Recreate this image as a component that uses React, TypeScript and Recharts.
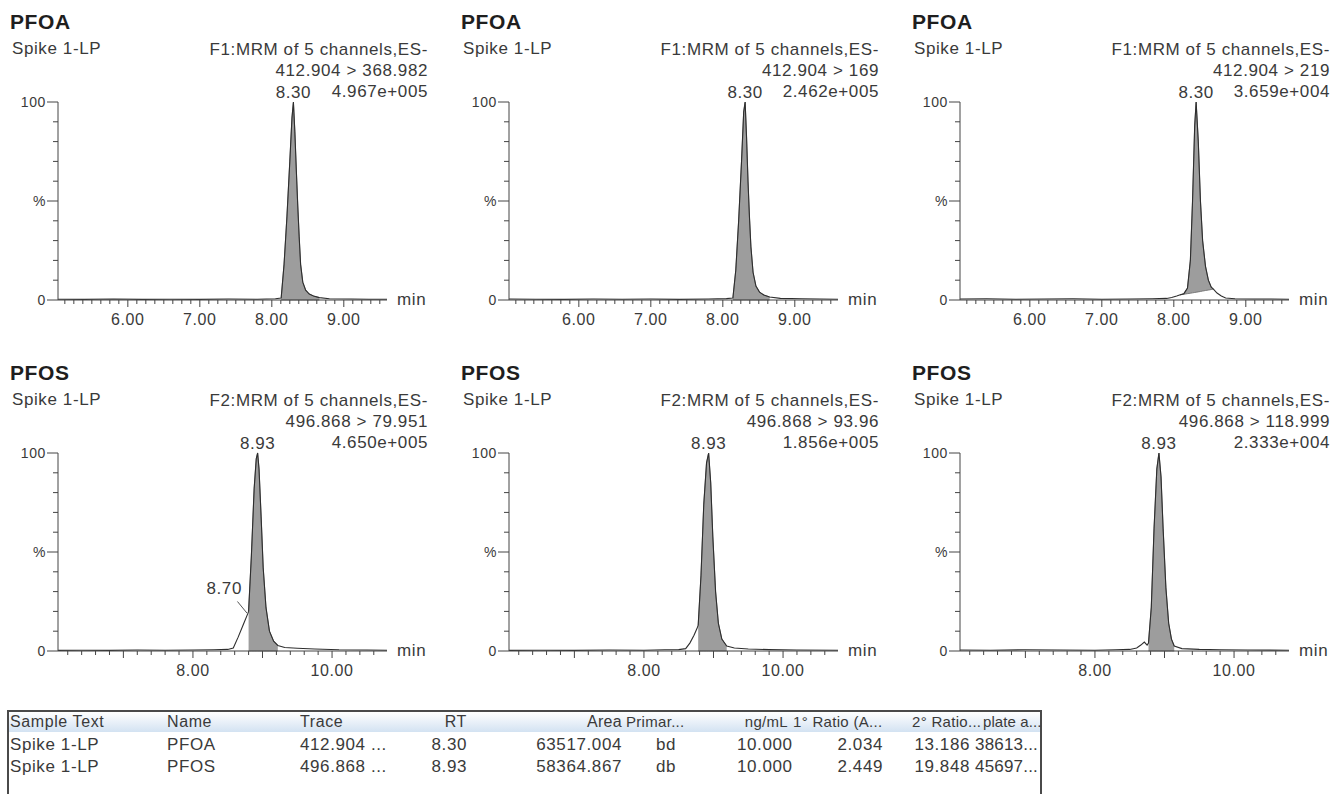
import React from 'react';
import { ComposedChart, Area, Line, XAxis, YAxis, ReferenceDot, ReferenceLine } from 'recharts';

const FONT = "'Liberation Sans', Arial, Helvetica, sans-serif";
const TEXT = '#3a3a3a';
const AXIS = '#444444';

// ---------- Row 1 : PFOA (412.904) ----------
const pfoa1T = [5.03, 5.4, 5.8, 6.2, 6.6, 7.0, 7.4, 7.8, 8.05, 8.13, 8.17, 8.21, 8.25, 8.28, 8.30, 8.32, 8.34, 8.36, 8.38, 8.40, 8.43, 8.47, 8.52, 8.58, 8.66, 8.8, 9.1, 9.35, 9.6];
const pfoa1Y = [0.4, 0.3, 0.5, 0.3, 0.4, 0.3, 0.5, 0.4, 0.6, 1, 18, 42, 70, 92, 100, 85, 66, 48, 32, 18, 9, 5, 3, 2, 1.2, 0.6, 0.5, 0.4, 0.4];
const pfoa1Fill = [8.13, 8.66];

const pfoa2T = [5.03, 5.4, 5.8, 6.2, 6.6, 7.0, 7.4, 7.8, 8.05, 8.14, 8.18, 8.22, 8.26, 8.29, 8.31, 8.33, 8.35, 8.37, 8.39, 8.42, 8.46, 8.51, 8.57, 8.65, 8.8, 9.1, 9.35, 9.6];
const pfoa2Y = [0.5, 0.4, 0.3, 0.5, 0.4, 0.5, 0.3, 0.5, 0.7, 1, 15, 40, 70, 95, 100, 82, 60, 42, 27, 14, 7, 4, 2.5, 1.5, 0.8, 0.6, 0.5, 0.4];
const pfoa2Fill = [8.14, 8.65];

const pfoa3T = [5.03, 5.4, 5.8, 6.2, 6.6, 7.0, 7.4, 7.7, 7.9, 7.97, 8.04, 8.09, 8.14, 8.19, 8.23, 8.26, 8.29, 8.31, 8.34, 8.37, 8.40, 8.44, 8.48, 8.52, 8.55, 8.60, 8.66, 8.72, 8.85, 9.1, 9.35, 9.6];
const pfoa3Y = [0.5, 0.6, 0.4, 0.5, 0.6, 0.4, 0.5, 0.6, 0.8, 1.3, 2, 2.6, 3.2, 6, 20, 50, 88, 100, 80, 50, 30, 17, 10, 6.5, 5.5, 3.5, 2, 1, 0.6, 0.5, 0.5, 0.4];
const pfoa3Fill = [8.09, 8.55];
const pfoa3Base = [2.6, 2.9, 3.2, 3.4, 3.6, 3.8, 3.9, 4.1, 4.3, 4.5, 4.8, 5.0, 5.3, 5.5];

// ---------- Row 2 : PFOS (496.868) ----------
const pfos1T = [6.06, 6.4, 6.8, 7.2, 7.6, 8.0, 8.3, 8.5, 8.58, 8.65, 8.72, 8.79, 8.80, 8.84, 8.88, 8.91, 8.93, 8.95, 8.98, 9.01, 9.05, 9.10, 9.16, 9.22, 9.32, 9.5, 9.75, 10.1, 10.5, 10.79];
const pfos1Y = [0.3, 0.4, 0.3, 0.5, 0.4, 0.5, 0.6, 0.8, 1.5, 7, 13, 19, 20, 48, 82, 97, 100, 92, 68, 42, 22, 10, 5, 2.8, 1.8, 1.4, 1.0, 0.6, 0.5, 0.4];
const pfos1Fill = [8.80, 9.22];

const pfos2T = [6.06, 6.5, 7.0, 7.5, 8.0, 8.3, 8.5, 8.6, 8.66, 8.72, 8.77, 8.78, 8.82, 8.86, 8.90, 8.93, 8.96, 8.99, 9.03, 9.07, 9.12, 9.19, 9.3, 9.5, 9.8, 10.2, 10.79];
const pfos2Y = [0.3, 0.4, 0.3, 0.5, 0.4, 0.6, 0.7, 1.2, 4, 8, 12, 13, 38, 74, 95, 100, 85, 58, 30, 14, 6, 2.5, 1.5, 1.0, 0.7, 0.5, 0.4];
const pfos2Fill = [8.78, 9.19];

const pfos3T = [6.06, 6.5, 7.0, 7.5, 8.0, 8.3, 8.5, 8.6, 8.66, 8.71, 8.75, 8.77, 8.81, 8.85, 8.89, 8.92, 8.95, 8.98, 9.02, 9.06, 9.10, 9.14, 9.25, 9.5, 9.8, 10.2, 10.79];
const pfos3Y = [0.5, 0.4, 0.6, 0.5, 0.4, 0.6, 0.8, 1.5, 3, 4.5, 3, 4, 22, 62, 92, 100, 88, 62, 32, 14, 6, 2.5, 1.2, 0.8, 0.6, 0.5, 0.4];
const pfos3Fill = [8.77, 9.14];

// ---------- Axes ----------
const row1Domain = [5.03, 9.6];
const row2Domain = [6.06, 10.79];
const row1Labels = [6, 7, 8, 9];
const row2Labels = [8, 10];
const yTicks = [0, 10, 20, 30, 40, 50, 60, 70, 80, 90, 100];

// ---------- Panel texts ----------
const titles = ['PFOA', 'PFOA', 'PFOA', 'PFOS', 'PFOS', 'PFOS'];
const samples = ['Spike 1-LP', 'Spike 1-LP', 'Spike 1-LP', 'Spike 1-LP', 'Spike 1-LP', 'Spike 1-LP'];
const functions = ['F1:MRM of 5 channels,ES-', 'F1:MRM of 5 channels,ES-', 'F1:MRM of 5 channels,ES-', 'F2:MRM of 5 channels,ES-', 'F2:MRM of 5 channels,ES-', 'F2:MRM of 5 channels,ES-'];
const transitions = ['412.904 > 368.982', '412.904 > 169', '412.904 > 219', '496.868 > 79.951', '496.868 > 93.96', '496.868 > 118.999'];
const intensities = ['4.967e+005', '2.462e+005', '3.659e+004', '4.650e+005', '1.856e+005', '2.333e+004'];
const rtLabels = ['8.30', '8.30', '8.30', '8.93', '8.93', '8.93'];
const rtApex = [8.30, 8.31, 8.31, 8.93, 8.93, 8.92];

// ---------- Table ----------
const tableHeaders = ['Sample Text', 'Name', 'Trace', 'RT', 'Area', 'Primar...', 'ng/mL', '1° Ratio (A...', '2° Ratio...', 'plate a...'];
const colSample = ['Spike 1-LP', 'Spike 1-LP'];
const colName = ['PFOA', 'PFOS'];
const colTrace = ['412.904 ...', '496.868 ...'];
const colRT = ['8.30', '8.93'];
const colArea = ['63517.004', '58364.867'];
const colPrimary = ['bd', 'db'];
const colConc = ['10.000', '10.000'];
const colRatio1 = ['2.034', '2.449'];
const colRatio2 = ['13.186', '19.848'];
const colPlate = ['38613...', '45697...'];

function range(a: number, b: number, s: number) {
  const out: number[] = [];
  for (let v = a; v <= b + 1e-9; v += s) out.push(Math.round(v * 1000) / 1000);
  return out;
}
const row1Ticks = range(5.125, 9.5, 0.125);
const row2Ticks = range(6.2, 10.6, 0.2);

function buildData(t: number[], y: number[], fill: number[], base?: number[]) {
  let k = 0;
  return t.map((tt, i) => {
    const inFill = tt >= fill[0] - 1e-9 && tt <= fill[1] + 1e-9;
    let band: number[] | null = null;
    if (inFill) {
      band = [base ? base[k] : 0, y[i]];
      k += 1;
    }
    return { t: tt, y: y[i], band };
  });
}

const makeXTick = (labels: number[]) => (props: any) => {
  const { x, y, payload } = props;
  const v = payload.value as number;
  const major = Math.abs(v - Math.round(v)) < 1e-6;
  const lab = labels.some((l) => Math.abs(l - v) < 1e-6);
  return (
    <g>
      <line x1={x} x2={x} y1={y} y2={y + (major ? 7 : 4)} stroke={AXIS} strokeWidth={1} />
      {lab && (
        <text x={x} y={y + 25} textAnchor="middle" fontSize={16} fill={TEXT}>
          {v.toFixed(2)}
        </text>
      )}
    </g>
  );
};

const YTick = (props: any) => {
  const { x, y, payload } = props;
  const v = payload.value as number;
  const major = v === 0 || v === 50 || v === 100;
  const label = v === 100 ? '100' : v === 50 ? '%' : v === 0 ? '0' : '';
  return (
    <g>
      <line x1={x - (major ? 11 : 5)} x2={x} y1={y} y2={y} stroke={AXIS} strokeWidth={1} />
      {label && (
        <text x={x - 12} y={y + 5} textAnchor="end" fontSize={14} fill={TEXT}>
          {label}
        </text>
      )}
    </g>
  );
};

type PanelProps = {
  idx: number;
  t: number[];
  y: number[];
  fill: number[];
  base?: number[];
  domain: number[];
  ticks: number[];
  labels: number[];
  shoulder?: boolean;
};

const COL_X = [0, 451, 902];
const PLOT_TOP = [102, 453];
const PLOT_H = 198;

function Txt(p: { x: number; y: number; align?: 'left' | 'right' | 'center'; size?: number; bold?: boolean; children: React.ReactNode; color?: string; spacing?: number }) {
  const size = p.size ?? 17;
  const style: React.CSSProperties = {
    position: 'absolute',
    top: p.y - 11,
    lineHeight: '22px',
    height: 22,
    fontSize: size,
    fontWeight: p.bold ? 700 : 400,
    color: p.color ?? TEXT,
    whiteSpace: 'nowrap',
    letterSpacing: `${p.spacing ?? 0.6}px`,
  };
  if (!p.align || p.align === 'left') style.left = p.x;
  else if (p.align === 'right') style.right = 1336 - p.x;
  else {
    style.left = p.x - 100;
    style.width = 200;
    style.textAlign = 'center';
  }
  return <div style={style}>{p.children}</div>;
}

function Panel(p: PanelProps) {
  const row = p.idx < 3 ? 0 : 1;
  const col = p.idx % 3;
  const ox = COL_X[col];
  const plotTop = PLOT_TOP[row];
  const data = buildData(p.t, p.y, p.fill, p.base);
  return (
    <>
      <Txt x={ox + 10} y={plotTop - 80} bold size={21} color="#1e1e1e">{titles[p.idx]}</Txt>
      <Txt x={ox + 12} y={plotTop - 53}>{samples[p.idx]}</Txt>
      <Txt x={ox + 428} y={plotTop - 52} align="right">{functions[p.idx]}</Txt>
      <Txt x={ox + 428} y={plotTop - 31} align="right">{transitions[p.idx]}</Txt>
      <Txt x={ox + 428} y={plotTop - 10} align="right">{intensities[p.idx]}</Txt>
      <Txt x={ox + 397} y={plotTop + PLOT_H} >min</Txt>
      <div style={{ position: 'absolute', left: ox, top: plotTop - 40, width: 450, height: 270 }}>
        <ComposedChart
          width={450}
          height={270}
          data={data}
          margin={{ top: 40, right: 63, bottom: 2, left: 8 }}
          style={{ fontFamily: FONT, letterSpacing: '0.6px' }}
        >
          <XAxis
            type="number"
            dataKey="t"
            domain={p.domain}
            allowDataOverflow
            ticks={p.ticks}
            interval={0}
            tick={makeXTick(p.labels)}
            tickLine={false}
            tickSize={0}
            tickMargin={0}
            height={30}
            axisLine={{ stroke: AXIS, strokeWidth: 1 }}
          />
          <YAxis
            type="number"
            domain={[0, 100]}
            ticks={yTicks}
            interval={0}
            tick={YTick}
            tickLine={false}
            tickSize={0}
            tickMargin={0}
            width={50}
            axisLine={{ stroke: AXIS, strokeWidth: 1 }}
          />
          <Area
            dataKey="band"
            type="linear"
            fill="#9d9d9d"
            fillOpacity={1}
            stroke="#666666"
            strokeWidth={0.8}
            connectNulls={false}
            isAnimationActive={false}
          />
          <Line
            dataKey="y"
            type="linear"
            stroke="#2e2e2e"
            strokeWidth={1.1}
            dot={false}
            isAnimationActive={false}
          />
          <ReferenceDot
            x={rtApex[p.idx]}
            y={100}
            r={0}
            fill="none"
            stroke="none"
            label={{ value: rtLabels[p.idx], position: 'top', offset: 4, fill: TEXT, fontSize: 17 }}
          />
          {p.shoulder && (
            <ReferenceLine
              segment={[{ x: 8.64, y: 25 }, { x: 8.78, y: 19 }]}
              stroke="#555"
              strokeWidth={1}
            />
          )}
          {p.shoulder && (
            <ReferenceDot
              x={8.45}
              y={28}
              r={0}
              fill="none"
              stroke="none"
              label={{ value: '8.70', position: 'top', offset: 2, fill: TEXT, fontSize: 17 }}
            />
          )}
        </ComposedChart>
      </div>
    </>
  );
}

const TABLE_LEFT = 7;
const TABLE_RIGHT = 1042;
const TABLE_TOP = 710;

function Table() {
  const rowsY = [745, 767];
  const hs = 15;
  const hsp = 0.3;
  return (
    <>
      <div
        style={{
          position: 'absolute',
          left: TABLE_LEFT,
          top: TABLE_TOP,
          width: TABLE_RIGHT - TABLE_LEFT,
          height: 794 - TABLE_TOP + 4,
          borderLeft: '2px solid #4a4a4a',
          borderTop: '2px solid #4a4a4a',
          borderRight: '2px solid #4a4a4a',
          boxSizing: 'border-box',
          background: '#ffffff',
        }}
      >
        <div style={{ height: 20, background: 'linear-gradient(#ffffff, #d3e2f2)' }} />
      </div>
      <Txt x={10} y={722} size={16} spacing={0.6}>{tableHeaders[0]}</Txt>
      <Txt x={167} y={722} size={16} spacing={0.6}>{tableHeaders[1]}</Txt>
      <Txt x={300} y={722} size={16} spacing={0.6}>{tableHeaders[2]}</Txt>
      <Txt x={467} y={722} size={16} spacing={0.6} align="right">{tableHeaders[3]}</Txt>
      <Txt x={622} y={722} size={16} spacing={0.3} align="right">{tableHeaders[4]}</Txt>
      <Txt x={626} y={722} size={hs} spacing={hsp}>{tableHeaders[5]}</Txt>
      <Txt x={788} y={722} size={hs} spacing={hsp} align="right">{tableHeaders[6]}</Txt>
      <Txt x={793} y={722} size={hs} spacing={hsp}>{tableHeaders[7]}</Txt>
      <Txt x={912} y={722} size={hs} spacing={hsp}>{tableHeaders[8]}</Txt>
      <Txt x={983} y={722} size={hs} spacing={0.1}>{tableHeaders[9]}</Txt>
      {rowsY.map((ry, i) => (
        <React.Fragment key={i}>
          <Txt x={10} y={ry}>{colSample[i]}</Txt>
          <Txt x={167} y={ry}>{colName[i]}</Txt>
          <Txt x={300} y={ry}>{colTrace[i]}</Txt>
          <Txt x={467} y={ry} align="right">{colRT[i]}</Txt>
          <Txt x={622} y={ry} align="right">{colArea[i]}</Txt>
          <Txt x={666} y={ry} align="center">{colPrimary[i]}</Txt>
          <Txt x={737} y={ry}>{colConc[i]}</Txt>
          <Txt x={883} y={ry} align="right">{colRatio1[i]}</Txt>
          <Txt x={970} y={ry} align="right">{colRatio2[i]}</Txt>
          <Txt x={975} y={ry} spacing={0.2}>{colPlate[i]}</Txt>
        </React.Fragment>
      ))}
    </>
  );
}

export default function App() {
  return (
    <div
      style={{
        position: 'absolute',
        left: 0,
        top: 0,
        width: 1336,
        height: 794,
        overflow: 'hidden',
        background: '#ffffff',
        fontFamily: FONT,
      }}
    >
      <Panel idx={0} t={pfoa1T} y={pfoa1Y} fill={pfoa1Fill} domain={row1Domain} ticks={row1Ticks} labels={row1Labels} />
      <Panel idx={1} t={pfoa2T} y={pfoa2Y} fill={pfoa2Fill} domain={row1Domain} ticks={row1Ticks} labels={row1Labels} />
      <Panel idx={2} t={pfoa3T} y={pfoa3Y} fill={pfoa3Fill} base={pfoa3Base} domain={row1Domain} ticks={row1Ticks} labels={row1Labels} />
      <Panel idx={3} t={pfos1T} y={pfos1Y} fill={pfos1Fill} domain={row2Domain} ticks={row2Ticks} labels={row2Labels} shoulder />
      <Panel idx={4} t={pfos2T} y={pfos2Y} fill={pfos2Fill} domain={row2Domain} ticks={row2Ticks} labels={row2Labels} />
      <Panel idx={5} t={pfos3T} y={pfos3Y} fill={pfos3Fill} domain={row2Domain} ticks={row2Ticks} labels={row2Labels} />
      <Table />
    </div>
  );
}
